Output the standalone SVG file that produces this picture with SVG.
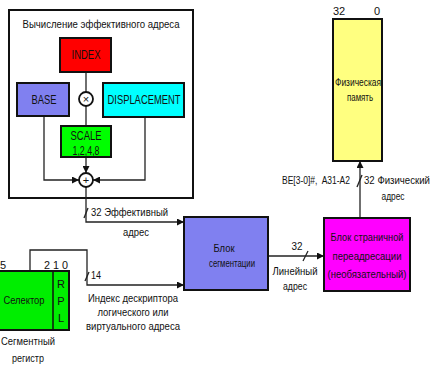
<svg xmlns="http://www.w3.org/2000/svg" width="434" height="365" viewBox="0 0 434 365">
  <defs>
    <marker id="arr" viewBox="0 0 10 10" refX="10" refY="5" markerWidth="7" markerHeight="7" markerUnits="userSpaceOnUse" orient="auto">
      <path d="M0,0 L10,5 L0,10 z" fill="#111"/>
    </marker>
    <style>
      text { font-family: "Liberation Sans", Arial, sans-serif; fill: #111; }
      .box { stroke: #111; stroke-width: 2; }
      .ln { fill: none; stroke: #222; stroke-width: 1.3; }
      .op { fill: #fff; stroke: #111; stroke-width: 1.8; }
      .lbl { font-size: 12px; text-anchor: middle; }
      .t { font-size: 11px; }
      .c { text-anchor: middle; }
    </style>
  </defs>
  <rect width="434" height="365" fill="#fff"/>

  <!-- effective address calculation frame -->
  <g id="ea-frame">
    <rect x="9" y="10" width="184" height="188" fill="none" stroke="#111" stroke-width="2"/>
    <text class="t c" x="101" y="28" textLength="157" lengthAdjust="spacingAndGlyphs">Вычисление эффективного адреса</text>
  </g>

  <g id="connectors">
    <!-- index -> multiply -> scale -> add -->
    <line class="ln" x1="86" y1="72" x2="86" y2="92"/>
    <line class="ln" x1="86" y1="106" x2="86" y2="126"/>
    <line class="ln" x1="86" y1="157" x2="86" y2="173" marker-end="url(#arr)"/>
    <!-- base -> add -->
    <polyline class="ln" points="44,116 44,180 79,180" marker-end="url(#arr)"/>
    <!-- displacement -> add -->
    <polyline class="ln" points="145,117 145,180 93,180" marker-end="url(#arr)"/>
    <!-- effective address -> segmentation -->
    <polyline class="ln" points="86,187 86,222 184,222" marker-end="url(#arr)"/>
    <line class="ln" x1="84" y1="218" x2="88" y2="208"/>
    <!-- selector -> segmentation -->
    <polyline class="ln" points="30,271 30,250 87,250 87,285 184,285" marker-end="url(#arr)"/>
    <line class="ln" x1="85" y1="281" x2="89" y2="272"/>
    <!-- linear address -->
    <line class="ln" x1="268" y1="256" x2="324" y2="256" marker-end="url(#arr)"/>
    <line class="ln" x1="303" y1="261" x2="308" y2="251"/>
    <!-- physical address -->
    <line class="ln" x1="360" y1="218" x2="360" y2="161" marker-end="url(#arr)"/>
    <line class="ln" x1="357" y1="187" x2="362" y2="175"/>
  </g>

  <g id="index">
    <rect class="box" x="60" y="38" width="51" height="34" fill="#ff0000"/>
    <text class="lbl" x="86" y="59" textLength="29" lengthAdjust="spacingAndGlyphs">INDEX</text>
  </g>
  <g id="base">
    <rect class="box" x="17" y="83" width="52" height="33" fill="#8080f0"/>
    <text class="lbl" x="44" y="104" textLength="25" lengthAdjust="spacingAndGlyphs">BASE</text>
  </g>
  <g id="displacement">
    <rect class="box" x="103" y="83" width="81" height="34" fill="#00ffff"/>
    <text class="lbl" x="144" y="104" textLength="73" lengthAdjust="spacingAndGlyphs">DISPLACEMENT</text>
  </g>
  <g id="multiply">
    <circle class="op" cx="86" cy="99" r="7"/>
    <text x="86" y="103" font-size="11" text-anchor="middle">×</text>
  </g>
  <g id="scale">
    <rect class="box" x="61" y="126" width="50" height="31" fill="#00ff00"/>
    <text class="lbl" x="86" y="140" textLength="31" lengthAdjust="spacingAndGlyphs">SCALE</text>
    <text class="lbl" x="86" y="155" textLength="27" lengthAdjust="spacingAndGlyphs">1,2,4,8</text>
  </g>
  <g id="add">
    <circle class="op" cx="86" cy="180" r="7"/>
    <text x="86" y="184" font-size="11" text-anchor="middle">+</text>
  </g>

  <g id="ea-label">
    <text class="t" x="91" y="216" textLength="77" lengthAdjust="spacingAndGlyphs">32 Эффективный</text>
    <text class="t c" x="136" y="236" textLength="26" lengthAdjust="spacingAndGlyphs">адрес</text>
  </g>

  <g id="segment-register">
    <rect class="box" x="-2" y="271" width="71" height="59" fill="#00ee00"/>
    <line x1="53" y1="271" x2="53" y2="330" stroke="#111" stroke-width="1.5"/>
    <text class="t c" x="24" y="304" textLength="41" lengthAdjust="spacingAndGlyphs">Селектор</text>
    <text class="t c" x="61" y="288">R</text>
    <text class="t c" x="61" y="305">P</text>
    <text class="t c" x="61" y="322">L</text>
    <text class="t" x="0" y="269">5</text>
    <text class="t" x="44" y="269" textLength="24" lengthAdjust="spacingAndGlyphs">2 1 0</text>
    <text class="t c" x="28" y="345" textLength="54" lengthAdjust="spacingAndGlyphs">Сегментный</text>
    <text class="t c" x="28" y="362" textLength="32" lengthAdjust="spacingAndGlyphs">регистр</text>
  </g>

  <g id="selector-label">
    <text class="t" x="91" y="279" textLength="10" lengthAdjust="spacingAndGlyphs">14</text>
    <text class="t c" x="133" y="302" textLength="90" lengthAdjust="spacingAndGlyphs">Индекс дескриптора</text>
    <text class="t c" x="133" y="316" textLength="71" lengthAdjust="spacingAndGlyphs">логического или</text>
    <text class="t c" x="133" y="330" textLength="94" lengthAdjust="spacingAndGlyphs">виртуального адреса</text>
  </g>

  <g id="segmentation">
    <rect class="box" x="184" y="217" width="84" height="73" fill="#8080f0"/>
    <text class="t c" x="224" y="252" textLength="21" lengthAdjust="spacingAndGlyphs">Блок</text>
    <text class="t c" x="232" y="267" textLength="46" lengthAdjust="spacingAndGlyphs">сегментации</text>
  </g>

  <g id="linear-label">
    <text class="t c" x="297" y="250" textLength="11" lengthAdjust="spacingAndGlyphs">32</text>
    <text class="t c" x="295" y="275" textLength="45" lengthAdjust="spacingAndGlyphs">Линейный</text>
    <text class="t c" x="295" y="290" textLength="24" lengthAdjust="spacingAndGlyphs">адрес</text>
  </g>

  <g id="paging">
    <rect class="box" x="324" y="218" width="86" height="73" fill="#ff00ff"/>
    <text class="t c" x="367" y="241" textLength="73" lengthAdjust="spacingAndGlyphs">Блок страничной</text>
    <text class="t c" x="367" y="260" textLength="69" lengthAdjust="spacingAndGlyphs">переадресации</text>
    <text class="t c" x="367" y="278" textLength="79" lengthAdjust="spacingAndGlyphs">(необязательный)</text>
  </g>

  <g id="physical-label">
    <text class="t" x="282" y="184" xml:space="preserve" textLength="68" lengthAdjust="spacingAndGlyphs">BE[3-0]#,  A31-A2</text>
    <text x="364" y="184" font-size="10" textLength="66" lengthAdjust="spacingAndGlyphs">32 Физический</text>
    <text class="t c" x="393" y="200" textLength="23" lengthAdjust="spacingAndGlyphs">адрес</text>
  </g>

  <g id="memory">
    <rect class="box" x="333" y="19" width="49" height="142" fill="#ffff80"/>
    <text class="t c" x="339" y="15">32</text>
    <text class="t c" x="377" y="15">0</text>
    <text class="t c" x="358" y="86" textLength="46" lengthAdjust="spacingAndGlyphs">Физическая</text>
    <text class="t c" x="360" y="101" textLength="26" lengthAdjust="spacingAndGlyphs">память</text>
  </g>
</svg>
